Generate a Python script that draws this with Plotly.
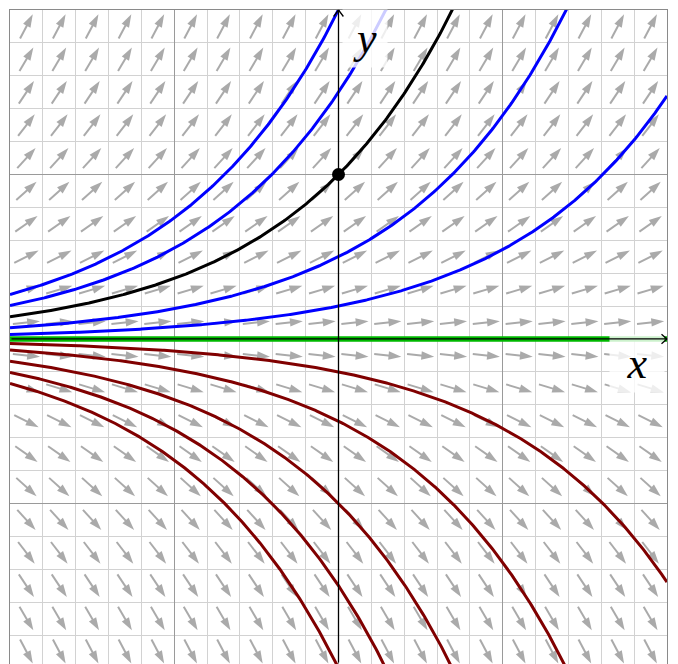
import numpy as np
import plotly.graph_objects as go

# ---------------------------------------------------------------------------
# Données : champ de directions de y' = y, solutions y = C·e^x
# ---------------------------------------------------------------------------
x_range = [-2.0, 2.0]
y_range = [-1.976, 2.0]

blue_C = [2.0, 1.5, 0.5, 0.2]            # solutions au-dessus de 0
red_C = [-0.2, -0.5, -1.0, -1.5, -2.0]   # solutions en dessous de 0
black_C = 1.0                            # solution particulière y(0) = 1
green_C = 0.0                            # solution nulle
point_x = [0.0]
point_y = [1.0]

cell = 0.2          # pas du champ de directions (centres des cases)
arrow_half = 0.083  # demi-longueur d'une flèche (unités)


def slope(x, y):
    return y


fig = go.Figure()

# ---- champ de directions ----
centers = np.arange(x_range[0] + cell / 2, x_range[1], cell)
gx, gy = np.meshgrid(centers, centers)
gx, gy = gx.ravel(), gy.ravel()
s = slope(gx, gy)
norm = np.sqrt(1 + s ** 2)
ux, uy = 1 / norm, s / norm

tip_x, tip_y = gx + arrow_half * ux, gy + arrow_half * uy
tail_x, tail_y = gx - arrow_half * ux, gy - arrow_half * uy
shaft_end_x = tip_x - 0.04 * ux
shaft_end_y = tip_y - 0.04 * uy

seg_x, seg_y = [], []
for a, b, c, d in zip(tail_x, shaft_end_x, tail_y, shaft_end_y):
    seg_x += [a, b, None]
    seg_y += [c, d, None]

arrow_col = "rgb(170,170,170)"
fig.add_trace(go.Scatter(x=seg_x, y=seg_y, mode="lines",
                         line=dict(color=arrow_col, width=2),
                         hoverinfo="skip", showlegend=False))
fig.add_trace(go.Scatter(x=tip_x, y=tip_y, mode="markers",
                         marker=dict(symbol="arrow", size=13.5,
                                     angle=np.degrees(np.arctan2(ux, uy)),
                                     color=arrow_col, line=dict(width=0)),
                         hoverinfo="skip", showlegend=False))

# ---- courbes solutions ----
xs = np.linspace(x_range[0], x_range[1], 500)
for C in blue_C:
    fig.add_trace(go.Scatter(x=xs, y=C * np.exp(xs), mode="lines",
                             line=dict(color="#0000ff", width=3),
                             showlegend=False))
for C in red_C:
    fig.add_trace(go.Scatter(x=xs, y=C * np.exp(xs), mode="lines",
                             line=dict(color="#800000", width=3),
                             showlegend=False))
fig.add_trace(go.Scatter(x=xs, y=black_C * np.exp(xs), mode="lines",
                         line=dict(color="black", width=3),
                         showlegend=False))
fig.add_trace(go.Scatter(x=xs, y=green_C * np.exp(xs), mode="lines",
                         line=dict(color="rgb(0,185,0)", width=5.5),
                         showlegend=False))
fig.add_trace(go.Scatter(x=point_x, y=point_y, mode="markers",
                         marker=dict(color="black", size=13),
                         showlegend=False))

# ---- étiquettes des axes (fond blanc semi-transparent) ----
label_font = dict(family="Liberation Serif", size=44, color="black")
annotations = [
    dict(x=0.164, y=1.828, xref="x", yref="y", text="<i>y</i>",
         showarrow=False, font=label_font, width=44, height=57,
         borderpad=0, bgcolor="rgba(255,255,255,0.8)"),
    dict(x=1.819, y=-0.15, xref="x", yref="y", text="<i>x</i>",
         showarrow=False, font=label_font, width=54, height=57,
         borderpad=0, bgcolor="rgba(255,255,255,0.8)"),
]

# ---- axes avec flèches (au-dessus des étiquettes) ----
axis_line = dict(xref="x", yref="y", text="", showarrow=True, arrowhead=0,
                 arrowwidth=1.3, arrowcolor="black", standoff=0, startstandoff=0)
annotations.append(dict(axis_line, x=x_range[1], y=0, ax=x_range[0], ay=0,
                        axref="x", ayref="y"))
annotations.append(dict(axis_line, x=0, y=y_range[1], ax=0, ay=y_range[0],
                        axref="x", ayref="y"))
for dx, dy in [(-7, -6), (-7, 6)]:
    annotations.append(dict(axis_line, x=x_range[1], y=0, ax=dx, ay=dy))
for dx, dy in [(-6, 8), (6, 8)]:
    annotations.append(dict(axis_line, x=0, y=y_range[1], ax=dx, ay=dy))

grid_axis = dict(showticklabels=False, ticks="", zeroline=False,
                 showgrid=True, dtick=1, gridcolor="#9a9a9a", gridwidth=1,
                 minor=dict(dtick=0.2, showgrid=True, gridcolor="#d2d2d2",
                            gridwidth=1),
                 showline=True, mirror=True, linecolor="#8a8a8a", linewidth=1.2)

# la page ajoute une marge de 8 px autour du graphique : on la compense
fig.update_layout(
    width=678, height=664,
    margin=dict(l=2, r=19, t=2, b=8),
    paper_bgcolor="white", plot_bgcolor="white",
    xaxis=dict(grid_axis, range=x_range, tick0=0),
    yaxis=dict(grid_axis, range=y_range, tick0=0),
    annotations=annotations,
    showlegend=False,
)

fig.write_html("out.html")
